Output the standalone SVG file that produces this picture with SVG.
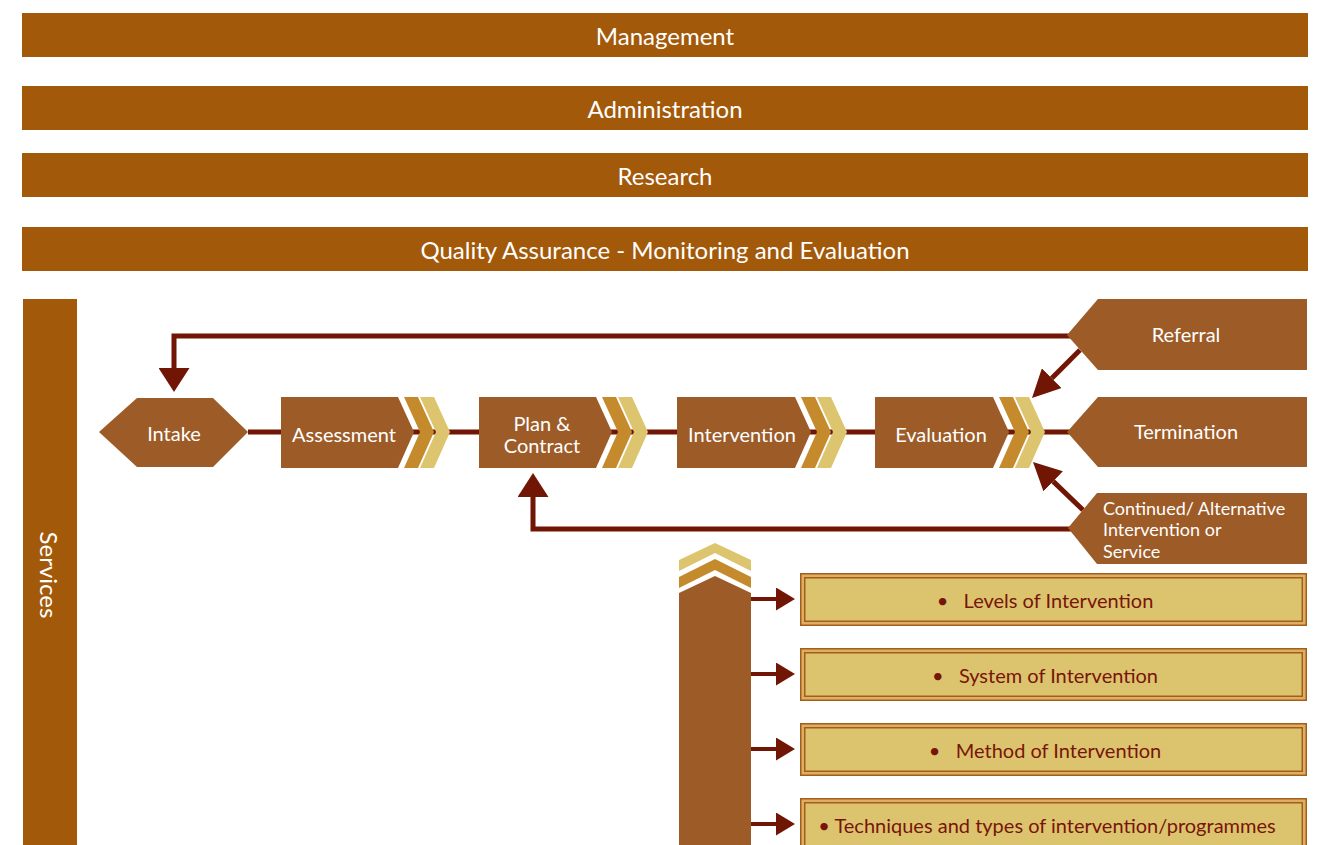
<svg xmlns="http://www.w3.org/2000/svg" width="1326" height="845" viewBox="0 0 1326 845">
<style>
.bar{fill:#A2590A}
.bt{font-family:Lato,"Liberation Sans",sans-serif;font-size:24px;fill:#fff;text-anchor:middle;dominant-baseline:central}
.nd{fill:#9D5B27}
.nt{font-family:Lato,"Liberation Sans",sans-serif;font-size:20px;fill:#fff;text-anchor:middle;dominant-baseline:central}
.ct{font-family:Lato,"Liberation Sans",sans-serif;font-size:18px;fill:#fff;text-anchor:start;dominant-baseline:central}
.c1{fill:#C48A2C}
.c2{fill:#DDC46E}
.ln{fill:none;stroke:#711604;stroke-width:5}
.ln2{fill:none;stroke:#711604;stroke-width:4}
.bo{fill:#DDAE68;stroke:#A45E16;stroke-width:1.5}
.bi{fill:#DCC46E;stroke:#A45E16;stroke-width:1.5}
.btx{font-family:Lato,"Liberation Sans",sans-serif;font-size:20px;fill:#78150A;text-anchor:middle;dominant-baseline:central}
</style>
<defs>
<marker id="ahA" markerUnits="userSpaceOnUse" markerWidth="24" markerHeight="31" refX="0" refY="15.5" orient="auto" viewBox="0 0 24 31"><path d="M0,0 L24,15.5 L0,31 Z" fill="#711604"/></marker>
<marker id="ahD" markerUnits="userSpaceOnUse" markerWidth="28" markerHeight="28" refX="0" refY="14" orient="auto" viewBox="0 0 28 28"><path d="M0,0 L28,14 L0,28 Z" fill="#711604"/></marker>
<marker id="ahS" markerUnits="userSpaceOnUse" markerWidth="19" markerHeight="23" refX="0" refY="11.5" orient="auto" viewBox="0 0 19 23"><path d="M0,0 L19,11.5 L0,23 Z" fill="#711604"/></marker>
</defs>

<g id="bars">
<g id="management"><rect class="bar" x="22" y="13" width="1286" height="44"/><text class="bt" x="665" y="35">Management</text></g>
<g id="administration"><rect class="bar" x="22" y="86" width="1286" height="44"/><text class="bt" x="665" y="108">Administration</text></g>
<g id="research"><rect class="bar" x="22" y="153" width="1286" height="44"/><text class="bt" x="665" y="175">Research</text></g>
<g id="qa"><rect class="bar" x="22" y="227" width="1286" height="44"/><text class="bt" x="665" y="249">Quality Assurance - Monitoring and Evaluation</text></g>
<g id="services"><rect class="bar" x="23" y="299" width="54" height="546"/><text class="bt" x="0" y="0" font-size="22" transform="translate(49,575) rotate(90)">Services</text></g>
</g>

<g id="connectors">
<path class="ln" d="M248,432 H1070"/>
<path class="ln" d="M1075,336 H174 V368" marker-end="url(#ahA)"/>
<path class="ln" d="M1075,529 H533 V497" marker-end="url(#ahA)"/>
<path class="ln" d="M1080,350 L1051.8,378.2" marker-end="url(#ahD)"/>
<path class="ln" d="M1083,510 L1053.2,481.4" marker-end="url(#ahD)"/>
<path class="ln2" d="M751,599 H776" marker-end="url(#ahS)"/>
<path class="ln2" d="M751,674 H776" marker-end="url(#ahS)"/>
<path class="ln2" d="M751,749 H776" marker-end="url(#ahS)"/>
<path class="ln2" d="M751,824 H776" marker-end="url(#ahS)"/>
</g>

<g id="intake"><polygon class="nd" points="99,432 137,398 213,398 248,432 213,467 137,467"/><text class="nt" x="174" y="433">Intake</text></g>

<g id="assessment">
<polygon class="nd" points="281,397 398,397 414,432 398,468 281,468"/>
<polygon class="c1" points="404,397 418,397 434,432 418,468 404,468 420,432"/>
<polygon class="c2" points="420,397 434,397 450,432 434,468 420,468 436,432"/>
<text class="nt" x="344" y="434">Assessment</text>
</g>
<g id="plan">
<polygon class="nd" points="479,397 596,397 612,432 596,468 479,468"/>
<polygon class="c1" points="602,397 616,397 632,432 616,468 602,468 618,432"/>
<polygon class="c2" points="618,397 632,397 648,432 632,468 618,468 634,432"/>
<text class="nt" x="542" y="423">Plan &amp;</text>
<text class="nt" x="542" y="445">Contract</text>
</g>
<g id="intervention">
<polygon class="nd" points="677,397 795,397 811,432 795,468 677,468"/>
<polygon class="c1" points="801,397 815,397 831,432 815,468 801,468 817,432"/>
<polygon class="c2" points="817,397 831,397 847,432 831,468 817,468 833,432"/>
<text class="nt" x="742" y="434">Intervention</text>
</g>
<g id="evaluation">
<polygon class="nd" points="875,397 993,397 1009,432 993,468 875,468"/>
<polygon class="c1" points="999,397 1013,397 1029,432 1013,468 999,468 1015,432"/>
<polygon class="c2" points="1015,397 1029,397 1045,432 1029,468 1015,468 1031,432"/>
<text class="nt" x="941" y="434">Evaluation</text>
</g>

<g id="referral"><polygon class="nd" points="1067,335 1098,299 1307,299 1307,370 1098,370"/><text class="nt" x="1186" y="334">Referral</text></g>
<g id="termination"><polygon class="nd" points="1067,432 1098,397 1307,397 1307,467 1098,467"/><text class="nt" x="1186" y="431">Termination</text></g>
<g id="continued"><polygon class="nd" points="1068,528 1097,493 1307,493 1307,564 1097,564"/>
<text class="ct" x="1103" y="507.5">Continued/ Alternative</text>
<text class="ct" x="1103" y="529">Intervention or</text>
<text class="ct" x="1103" y="550.5">Service</text>
</g>

<g id="column">
<polygon class="c2" points="679,560 715,543 751,560 751,571 715,553 679,571"/>
<polygon class="c1" points="679,577 715,559 751,577 751,588 715,570 679,588"/>
<polygon class="nd" points="679,593 715,576 751,593 751,845 679,845"/>
</g>

<g id="levels"><rect class="bo" x="800.75" y="573.75" width="505.5" height="51.5"/><rect class="bi" x="804.75" y="577.75" width="497.5" height="43.5"/><text class="btx" x="1045" y="600">•&#160;&#160; Levels of Intervention</text></g>
<g id="system"><rect class="bo" x="800.75" y="648.75" width="505.5" height="51.5"/><rect class="bi" x="804.75" y="652.75" width="497.5" height="43.5"/><text class="btx" x="1045" y="675">•&#160;&#160; System of Intervention</text></g>
<g id="method"><rect class="bo" x="800.75" y="723.75" width="505.5" height="51.5"/><rect class="bi" x="804.75" y="727.75" width="497.5" height="43.5"/><text class="btx" x="1045" y="750">•&#160;&#160; Method of Intervention</text></g>
<g id="techniques"><rect class="bo" x="800.75" y="798.75" width="505.5" height="51.5"/><rect class="bi" x="804.75" y="802.75" width="497.5" height="43.5"/><text class="btx" x="1047" y="825" font-size="20.5">• Techniques and types of intervention/programmes</text></g>
</svg>
